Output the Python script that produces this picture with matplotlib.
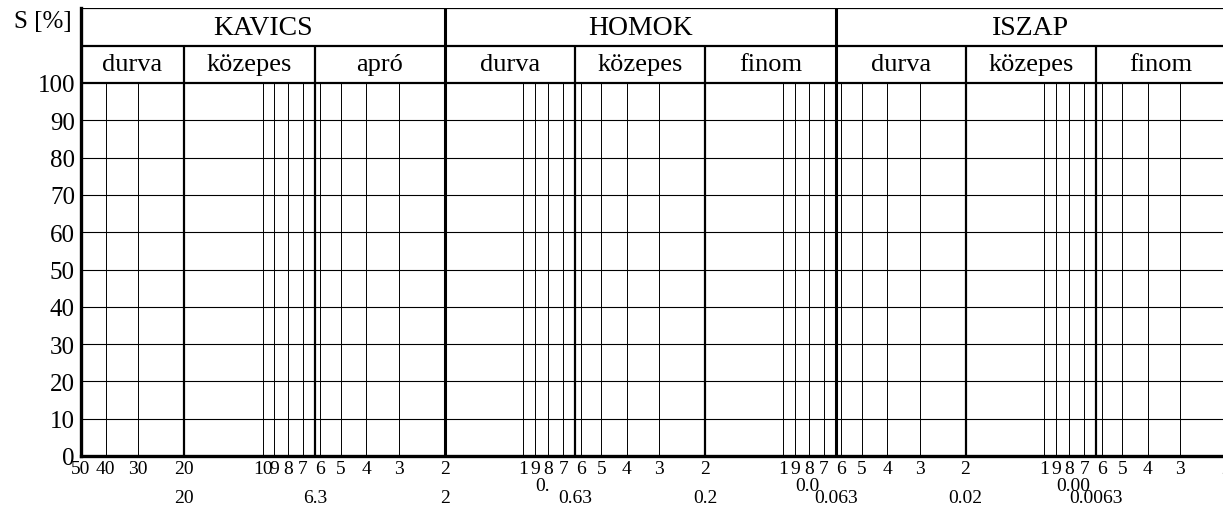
import numpy as np
import matplotlib
matplotlib.use("Agg")
import matplotlib.pyplot as plt

plt.rcParams["font.family"] = ["Liberation Serif", "DejaVu Serif"]

# Grain size boundaries (mm)
main_bounds = [50, 2, 0.063, 0.002]
main_labels = ["KAVICS", "HOMOK", "ISZAP"]
sub_bounds = [50, 20, 6.3, 2, 0.63, 0.2, 0.063, 0.02, 0.0063, 0.002]
sub_labels = ["durva", "közepes", "apró", "durva", "közepes", "finom",
              "durva", "közepes", "finom"]

# thin grid lines
thin_lines = [40, 30, 10, 9, 8, 7, 6, 5, 4, 3,
              1, 0.9, 0.8, 0.7, 0.6, 0.5, 0.4, 0.3,
              0.1, 0.09, 0.08, 0.07, 0.06, 0.05, 0.04, 0.03,
              0.01, 0.009, 0.008, 0.007, 0.006, 0.005, 0.004, 0.003]
strong_lines = [20, 6.3, 0.63, 0.2, 0.02, 0.0063]
heavy_lines = [2, 0.063]

# first row of x tick labels
tick_vals = [50, 40, 30, 20, 10, 9, 8, 7, 6, 5, 4, 3, 2,
             1, 0.9, 0.8, 0.7, 0.6, 0.5, 0.4, 0.3, 0.2,
             0.1, 0.09, 0.08, 0.07, 0.06, 0.05, 0.04, 0.03, 0.02,
             0.01, 0.009, 0.008, 0.007, 0.006, 0.005, 0.004, 0.003, 0.002]
tick_text = ["50", "40", "30", "20", "10", "9", "8", "7", "6", "5", "4", "3", "2",
             "1", "9", "8", "7", "6", "5", "4", "3", "2",
             "1", "9", "8", "7", "6", "5", "4", "3", "2",
             "1", "9", "8", "7", "6", "5", "4", "3", "2"]

# second row: boundary values
bound_vals = [20, 6.3, 2, 0.63, 0.2, 0.063, 0.02, 0.0063]
bound_text = ["20", "6.3", "2", "0.63", "0.2", "0.063", "0.02", "0.0063"]
# stray partial labels between rows
stray_vals = [0.84, 0.081, 0.0077]
stray_text = ["0.", "0.0", "0.00"]

y_ticks = list(range(0, 101, 10))

fig = plt.figure(figsize=(12.23, 5.06), dpi=100)
ax = fig.add_axes([80.5 / 1223, 49 / 506, (1226 - 80.5) / 1223, (457 - 9.4) / 506])
ax.set_xscale("log")
ax.set_xlim(50, 0.002)
ax.set_ylim(0, 120)

# horizontal grid
ax.hlines(y_ticks[1:-1], 50, 0.002, colors="black", lw=0.8)
ax.hlines([100, 110, 120], 50, 0.002, colors="black", lw=1.6)

# vertical grid in data area
ax.vlines(thin_lines, 0, 100, colors="black", lw=0.7)
ax.vlines(strong_lines, 0, 110, colors="black", lw=1.6)
ax.vlines(heavy_lines, 0, 120, colors="black", lw=2.2)

# header texts
for i, lab in enumerate(main_labels):
    xc = np.sqrt(main_bounds[i] * main_bounds[i + 1])
    ax.text(xc, 115, lab, ha="center", va="center", fontsize=20)
for i, lab in enumerate(sub_labels):
    xc = np.sqrt(sub_bounds[i] * sub_bounds[i + 1])
    ax.text(xc, 105, lab, ha="center", va="center", fontsize=19)

for side in ["top", "right"]:
    ax.spines[side].set_visible(False)
ax.spines["left"].set_linewidth(2.4)
ax.spines["bottom"].set_linewidth(2.4)

ax.set_yticks(y_ticks)
ax.set_yticklabels([str(v) for v in y_ticks], fontsize=18)
ax.minorticks_off()
ax.set_xticks(tick_vals)
ax.set_xticklabels(tick_text, fontsize=14)
ax.tick_params(axis="y", length=0, pad=4)
ax.tick_params(axis="x", length=0, pad=3)

for v, t in zip(bound_vals, bound_text):
    ax.annotate(t, xy=(v, 0), xycoords=("data", "axes fraction"),
                xytext=(0, -33), textcoords="offset pixels",
                ha="center", va="top", fontsize=14)
for v, t in zip(stray_vals, stray_text):
    ax.annotate(t, xy=(v, 0), xycoords=("data", "axes fraction"),
                xytext=(0, -21), textcoords="offset pixels",
                ha="center", va="top", fontsize=14)

fig.text(43 / 1223, 1 - 22 / 506, "S [%]", ha="center", va="center", fontsize=18)

fig.savefig("out.png", dpi=100)
